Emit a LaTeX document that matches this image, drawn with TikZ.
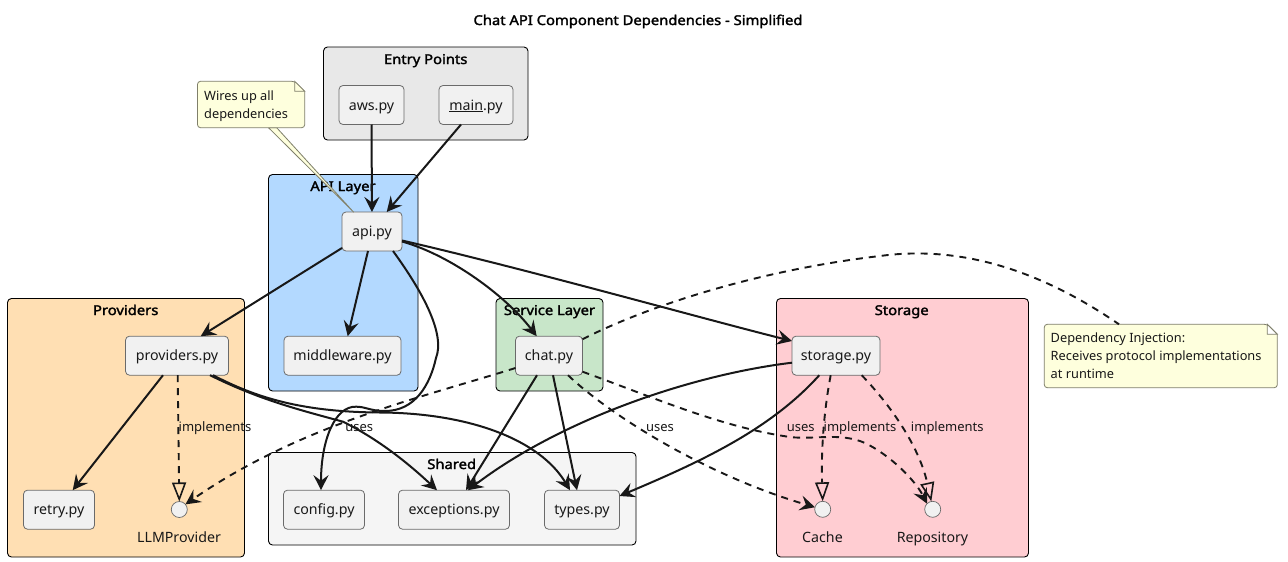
\documentclass[tikz,border=0pt]{standalone}
\usepackage{fontspec}
\setmainfont{Noto Sans}
\newfontfamily\heavyface{Noto Sans}[FakeBold=2,FakeStretch=1.095]
\usetikzlibrary{arrows.meta}
\definecolor{ink}{HTML}{181818}
\definecolor{boxfill}{HTML}{F1F1F1}
\definecolor{boxline}{HTML}{6A6A6A}
\definecolor{notefill}{HTML}{FEFFDD}
\definecolor{noteline}{HTML}{7F7F6A}
\definecolor{cEntry}{HTML}{E8E8E8}
\definecolor{cApi}{HTML}{B3D9FF}
\definecolor{cProv}{HTML}{FFDFB3}
\definecolor{cServ}{HTML}{C8E6C9}
\definecolor{cShared}{HTML}{F5F5F5}
\definecolor{cStore}{HTML}{FFCDD2}
\tikzset{
  cluster/.style={draw=black,line width=0.9pt,rounded corners=4pt},
  ctitle/.style={font=\fontsize{13.5}{16}\selectfont\heavyface,text=black,inner sep=0pt,text height=13pt,text depth=3pt},
  filebox/.style={draw=boxline,fill=boxfill,line width=0.8pt,rounded corners=4pt,minimum height=39pt,inner sep=0pt,outer sep=0pt,font=\fontsize{14.2}{16}\selectfont,text=ink,text height=13pt,text depth=3pt},
  iface/.style={circle,draw=boxline,fill=boxfill,line width=0.7pt,minimum size=16pt,inner sep=0pt,outer sep=0pt},
  lab/.style={font=\fontsize{13}{16}\selectfont,text=ink,inner sep=0pt,text height=11pt,text depth=3pt},
  ifacelab/.style={lab,font=\fontsize{14.2}{16}\selectfont,text height=13pt},
  notetxt/.style={font=\fontsize{12.8}{18}\selectfont,text=ink,inner sep=0pt,align=left,anchor=north west},
  notebody/.style={draw=noteline,fill=notefill,line width=0.8pt,line join=round,rounded corners=3pt},
  dep/.style={draw=ink,line width=2pt,-{Stealth[length=15pt,width=15pt,inset=5.5pt]}},
  depd/.style={draw=ink,line width=1.9pt,dash pattern=on 7pt off 6pt,-{Stealth[length=15pt,width=15pt,inset=5.5pt]}},
  real/.style={draw=ink,line width=1.9pt,dash pattern=on 7pt off 6pt,-{Triangle[open,fill=none,length=19pt,width=14pt,line width=1.6pt]}},
  plain/.style={draw=ink,line width=1.9pt,dash pattern=on 7pt off 6pt},
}
\begin{document}
\begin{tikzpicture}[x=1pt,y=-1pt]
\path[use as bounding box,fill=white] (0,0) rectangle (1288,562);
\node[ctitle] (title) at (638,20) {Chat API Component Dependencies - Simplified};
% clusters
\draw[cluster,fill=cEntry] (323.5,47) rectangle (528,140);
\draw[cluster,fill=cApi] (268.5,174.5) rectangle (418,391);
\draw[cluster,fill=cProv] (7.5,298.5) rectangle (244.5,557);
\draw[cluster,fill=cServ] (496,298.5) rectangle (603,391);
\draw[cluster,fill=cShared] (268.5,452.5) rectangle (636,545);
\draw[cluster,fill=cStore] (776.5,298.5) rectangle (1028.5,557);
\node[ctitle] (tEntry) at (425.7,59) {Entry Points};
\node[ctitle] (tApi) at (343,186) {API Layer};
\node[ctitle] (tProv) at (125.7,310) {Providers};
\node[ctitle] (tServ) at (549.5,310) {Service Layer};
\node[ctitle] (tShared) at (451.7,464) {Shared};
\node[ctitle] (tStore) at (901.7,310) {Storage};
% boxes
\node[filebox,minimum width=65pt] (aws) at (371.5,105) {aws.py};
\node[filebox,minimum width=74pt] (mainpy) at (476,105) {\underline{main}.py};
\node[filebox,minimum width=60pt] (api) at (372,231.5) {api.py};
\node[filebox,minimum width=117pt] (mw) at (342.5,355.7) {middleware.py};
\node[filebox,minimum width=103pt] (prov) at (177,355.7) {providers.py};
\node[filebox,minimum width=71pt] (retry) at (59,509.7) {retry.py};
\node[filebox,minimum width=81pt] (config) at (324,509.7) {config.py};
\node[filebox,minimum width=111pt] (exc) at (454,509.7) {exceptions.py};
\node[filebox,minimum width=75pt] (types) at (582,509.7) {types.py};
\node[filebox,minimum width=67pt] (chat) at (549,355.7) {chat.py};
\node[filebox,minimum width=88pt] (store) at (836,355.7) {storage.py};
\node[iface] (llm) at (179.3,509.5) {};
\node[iface] (cache) at (822.7,509.3) {};
\node[iface] (repo) at (932.7,509.3) {};
\node[ifacelab] (llmL) at (179,537) {LLMProvider};
\node[ifacelab] (cacheL) at (822.5,537) {Cache};
\node[ifacelab] (repoL) at (932.5,537) {Repository};
% solid edges
\draw[dep] (aws.south) -- (api.north);
\draw[dep] ([xshift=-15pt]mainpy.south) -- ([xshift=14.7pt]api.north);
\draw[dep] ([yshift=-16.5pt]api.west) -- ([xshift=23.7pt]prov.north);
\draw[dep] ([xshift=-4pt]api.south) -- ([xshift=5.2pt]mw.north);
\draw[dep] ([yshift=-10pt]api.east) .. controls (450,255) and (505,295) .. ([xshift=-12.3pt]chat.north);
\draw[dep] ([yshift=-9pt]api.east) .. controls (530,270) and (700,318) .. ([yshift=14.7pt]store.west);
\draw[dep] ([xshift=21pt]api.south) .. controls (425,295) and (445,335) .. (436,358) .. controls (430,385) and (415,411) .. (385,411) .. controls (370,411) and (365,406.5) .. (356,406.7) .. controls (335,406) and (321,440) .. ([xshift=-3pt]config.north);
\draw[dep] ([xshift=-14pt]prov.south) -- ([xshift=13.7pt]retry.north);
\draw[dep] ([xshift=33pt]prov.south) .. controls (260,400) and (300,410) .. (343,421.7) .. controls (380,440) and (410,465) .. ([xshift=-17pt]exc.north);
\draw[dep] ([xshift=36pt]prov.south) .. controls (255,397) and (300,412) .. (380,412.5) .. controls (470,413) and (540,440) .. ([xshift=-12pt]types.north);
\draw[dep] ([xshift=-12pt]chat.south) -- ([xshift=12pt]exc.north);
\draw[dep] ([xshift=4pt]chat.south) -- ([xshift=-5pt]types.north);
\draw[dep] ([yshift=-7pt]store.west) .. controls (690,375) and (560,420) .. ([xshift=14pt]exc.north);
\draw[dep] ([xshift=-16.7pt]store.south) .. controls (770,430) and (700,462) .. ([yshift=13.7pt]types.east);
% dashed edges
\draw[real] ([xshift=0.7pt]prov.south) -- (llm.north);
\draw[depd] ([yshift=-12.3pt]chat.west) .. controls (420,398) and (300,425) .. (llm.40);
\draw[depd] ([xshift=19pt]chat.south) .. controls (610,415) and (705,475) .. (cache.165);
\draw[depd] ([yshift=-16pt]chat.east) .. controls (650,396) and (720,427) .. (790,437) .. controls (815,440) and (840,432) .. (865,443) .. controls (890,455) and (915,480) .. (repo.135);
\draw[real] ([xshift=-5.3pt]store.south) .. controls (824,410) and (821,450) .. (cache.north);
\draw[real] ([xshift=25.7pt]store.south) .. controls (895,410) and (920,450) .. (repo.100);
% notes
\draw[notebody,rounded corners=0pt] (268.5,127.7) -- (276.7,127.7) -- ([xshift=11.5pt]api.north west) -- cycle;
\draw[notebody] (197.5,81.3) -- (294.7,81.3) [sharp corners] -- (304.7,91.3) [rounded corners=3pt] -- (304.7,127.7) -- (197.5,127.7) -- cycle;
\draw[noteline,line width=0.8pt,fill=notefill] (294.7,81.3) -- (294.7,91.3) -- (304.7,91.3) -- cycle;
\draw[notebody] (1044.3,324.3) -- (1267.3,324.3) [sharp corners] -- (1277.3,334.3) [rounded corners=3pt] -- (1277.3,387.7) -- (1044.3,387.7) -- cycle;
\draw[noteline,line width=0.8pt,fill=white] (1267.3,324.3) -- (1267.3,334.3) -- (1277.3,334.3) -- cycle;
\node[notetxt] (n1) at (204,91) {Wires up all\\dependencies};
\node[notetxt] (n2) at (1050.5,332.5) {Dependency Injection:\\Receives protocol implementations\\at runtime};
\coordinate (n2top) at (1119,324.3);
\draw[plain] ([yshift=16.5pt]chat.east) .. controls (650,305) and (760,270) .. (880,256) .. controls (960,245) and (1040,270) .. (n2top);
% labels
\node[lab] (l1) at (215,427.7) {implements};
\node[lab] (l2) at (359.3,427.7) {uses};
\node[lab] (l3) at (660,427.7) {uses};
\node[lab] (l4) at (800.7,427.7) {uses};
\node[lab] (l5) at (860,427.7) {implements};
\node[lab] (l6) at (947.3,427.7) {implements};
\end{tikzpicture}
\end{document}
